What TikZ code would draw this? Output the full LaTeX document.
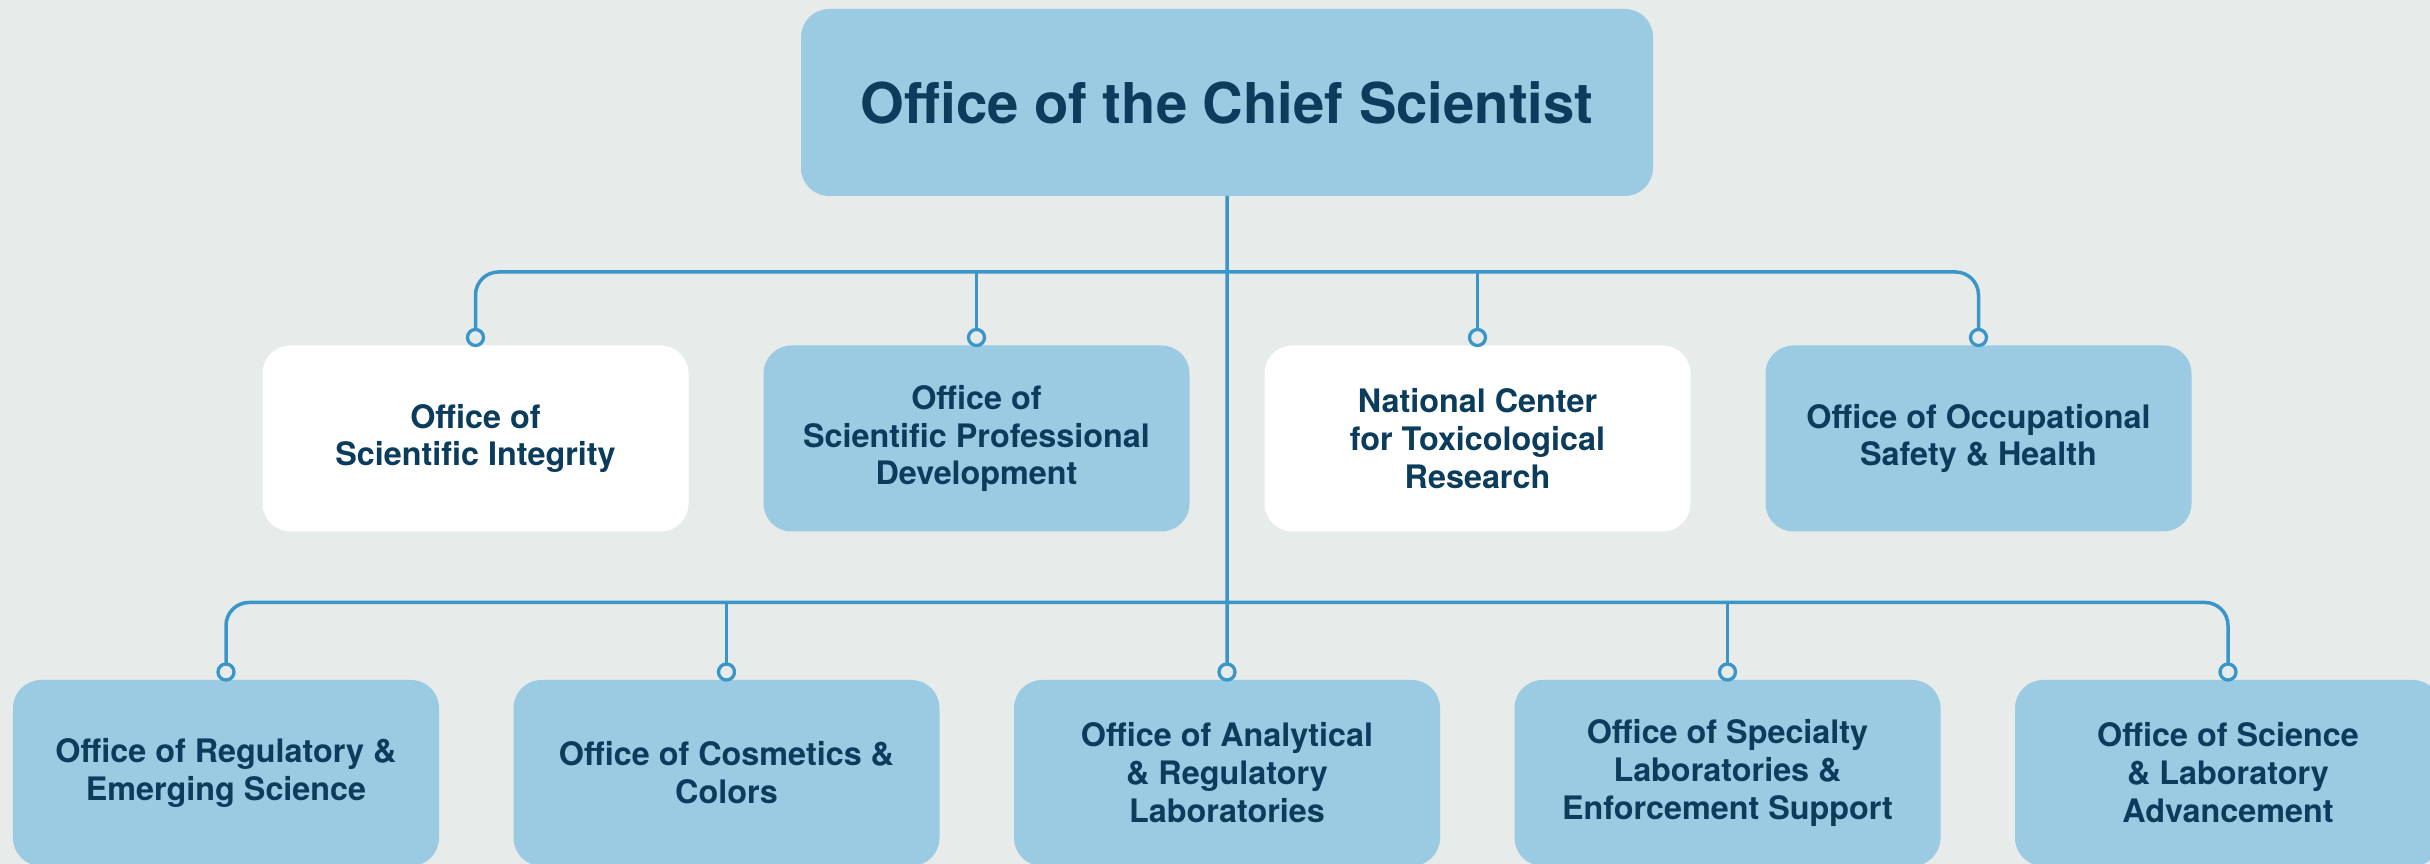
\documentclass[tikz,border=0pt]{standalone}
\usepackage{fontspec}
\setmainfont{TeX Gyre Heros}
\usetikzlibrary{positioning}
\definecolor{bgc}{HTML}{E7EBEA}
\definecolor{boxc}{HTML}{9ACBE3}
\definecolor{linec}{HTML}{3A96C9}
\definecolor{textc}{HTML}{0B3C5B}
\tikzset{
  unit/.style={rounded corners=0.28cm, inner sep=0pt, outer sep=0pt, align=center,
    text=textc, font=\bfseries\fontsize{9.2}{10.8}\selectfont,
    minimum width=4.26cm, minimum height=1.86cm},
  bluebox/.style={unit, fill=boxc},
  whitebox/.style={unit, fill=white},
  head/.style={bluebox, minimum width=8.52cm, minimum height=1.87cm,
    font=\bfseries\fontsize{16}{19}\selectfont},
  dot/.style={circle, draw=linec, fill=bgc, line width=0.033cm, minimum size=0.16cm,
    inner sep=0pt, outer sep=0pt},
  link/.style={draw=linec, line width=0.035cm}
}
\begin{document}
\begin{tikzpicture}
    \clip (0,0) rectangle (24.3,-8.64);
    \fill[bgc] (0,0) rectangle (24.3,-8.64);

    \node[head] (cs) at (12.27,-1.025) {Office of the Chief Scientist};

    \node[whitebox] (o1) at (4.755,-4.385) {Office of\\Scientific Integrity};
    \node[bluebox, right=0.75cm of o1] (o2) {Office of\\Scientific Professional\\Development};
    \node[whitebox, right=0.75cm of o2] (o3) {National Center\\for Toxicological\\Research};
    \node[bluebox, right=0.75cm of o3] (o4) {Office of Occupational\\Safety \& Health};

    \node[bluebox] (l1) at (2.26,-7.73) {Office of Regulatory \&\\Emerging Science};
    \node[bluebox, right=0.745cm of l1] (l2) {Office of Cosmetics \&\\Colors};
    \node[bluebox, right=0.745cm of l2] (l3) {Office of Analytical\\\& Regulatory\\Laboratories};
    \node[bluebox, right=0.745cm of l3] (l4) {Office of Specialty\\Laboratories \&\\Enforcement Support};
    \node[bluebox, right=0.745cm of l4] (l5) {Office of Science\\\& Laboratory\\Advancement};

    \foreach \n in {1,...,4}
      \node[dot, above=0pt of o\n] (do\n) {};
    \foreach \n in {1,...,5}
      \node[dot, above=0pt of l\n] (dl\n) {};

    \coordinate (bo) at (0,-2.72);
    \coordinate (bl) at (0,-6.025);

    \draw[link, rounded corners=0.23cm] (do1.north) -- (do1.north |- bo) -- (do4.north |- bo) -- (do4.north);
    \draw[link] (do2.north |- bo) -- (do2.north);
    \draw[link] (do3.north |- bo) -- (do3.north);

    \draw[link, rounded corners=0.23cm] (dl1.north) -- (dl1.north |- bl) -- (dl5.north |- bl) -- (dl5.north);
    \draw[link] (dl2.north |- bl) -- (dl2.north);
    \draw[link] (dl4.north |- bl) -- (dl4.north);

    \draw[link] (cs.south) -- (dl3.north);
\end{tikzpicture}
\end{document}
